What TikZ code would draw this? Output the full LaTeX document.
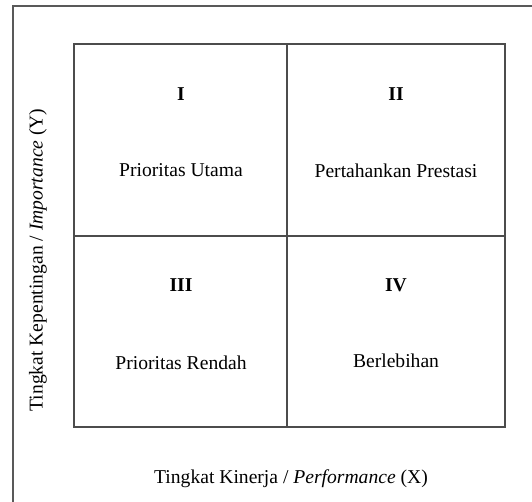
\documentclass[tikz,border=0pt]{standalone}
\usepackage{fontspec}
\setmainfont{Liberation Serif}
\begin{document}
\begin{tikzpicture}[x=1pt,y=1pt,
  frame/.style={draw=black!65,line width=1.3pt},
  grid/.style={draw=black!70,line width=1.3pt},
  lbl/.style={font=\fontsize{19.6}{22}\selectfont,text=black,inner sep=0pt},
  num/.style={font=\fontsize{19.6}{22}\selectfont\bfseries,text=black,inner sep=0pt}]
\useasboundingbox (0,0) rectangle (532,502);
\coordinate (ftl) at (13,496);
\coordinate (ftr) at (532,496);
\coordinate (fbl) at (13,0);
\draw[frame] (fbl) -- (ftl) -- (ftr);
\coordinate (gbl) at (74,75);
\coordinate (gtr) at (505,458);
\coordinate (mt) at (287,458);
\coordinate (mb) at (287,75);
\coordinate (ml) at (74,266);
\coordinate (mr) at (505,266);
\draw[grid] (gbl) rectangle (gtr);
\draw[grid] (mt) -- (mb);
\draw[grid] (ml) -- (mr);
\node[num] (n1) at (181,408) {I};
\node[num] (n2) at (396,408) {II};
\node[lbl] (t1) at (181,332) {Prioritas Utama};
\node[lbl] (t2) at (396,331) {Pertahankan Prestasi};
\node[num] (n3) at (181,217) {III};
\node[num] (n4) at (396,217) {IV};
\node[lbl] (t3) at (181,139) {Prioritas Rendah};
\node[lbl] (t4) at (396,141) {Berlebihan};
\node[lbl] (xl) at (291,23) {Tingkat Kinerja / \textit{Performance} (X)};
\node[lbl,rotate=90] (yl) at (38,242) {Tingkat Kepentingan / \textit{Importance} (Y)};
\end{tikzpicture}
\end{document}
